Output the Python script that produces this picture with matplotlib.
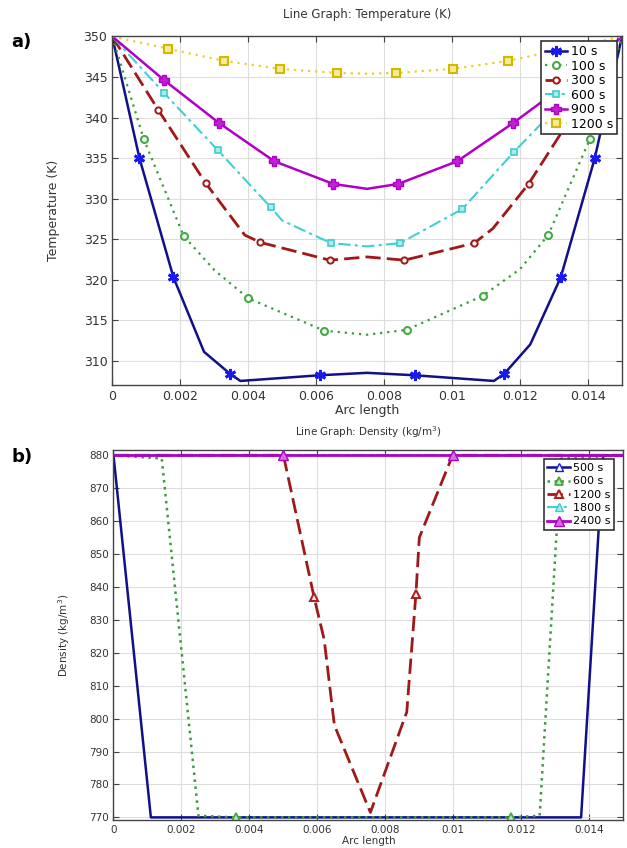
import numpy as np
import matplotlib
matplotlib.use("Agg")
import matplotlib.pyplot as plt

# ---- a) temperature profiles ----
t_labels = ['10 s', '100 s', '300 s', '600 s', '900 s', '1200 s']

x_10 = [0, 0.0008, 0.0018, 0.0027, 0.00346, 0.00377, 0.0061, 0.0075, 0.0089, 0.01123, 0.01154, 0.0123, 0.0132, 0.0142, 0.015]
T_10 = [350, 335.0, 320.3, 311.1, 308.4, 307.5, 308.2, 308.5, 308.2, 307.5, 308.4, 312.0, 320.3, 335.0, 350]

x_100 = [0, 0.00093, 0.0021, 0.003, 0.004, 0.00624, 0.0075, 0.00866, 0.0109, 0.012, 0.01283, 0.01405, 0.015]
T_100 = [350, 337.3, 325.4, 321.2, 317.7, 313.7, 313.2, 313.8, 318.0, 321.3, 325.5, 337.3, 350]

x_300 = [0, 0.00136, 0.00275, 0.0039, 0.00435, 0.0064, 0.0075, 0.0086, 0.01065, 0.0112, 0.01225, 0.01364, 0.015]
T_300 = [350, 340.9, 331.9, 325.5, 324.6, 322.4, 322.8, 322.4, 324.5, 326.3, 331.8, 340.9, 350]

x_600 = [0, 0.00153, 0.0031, 0.00467, 0.0050, 0.00644, 0.0075, 0.00847, 0.0103, 0.01183, 0.0135, 0.015]
T_600 = [350, 343.0, 336.0, 328.9, 327.3, 324.5, 324.1, 324.5, 328.7, 335.8, 343.0, 350]

x_900 = [0, 0.00153, 0.00315, 0.00477, 0.00651, 0.0075, 0.00841, 0.01015, 0.01179, 0.0135, 0.015]
T_900 = [350, 344.6, 339.3, 334.6, 331.8, 331.2, 331.8, 334.6, 339.3, 344.6, 350]

x_1200 = [0, 0.00163, 0.00328, 0.00495, 0.00661, 0.0075, 0.00834, 0.01002, 0.01166, 0.01335, 0.015]
T_1200 = [350, 348.5, 347.0, 346.0, 345.5, 345.4, 345.5, 346.0, 347.0, 348.5, 350]

# ---- b) density profiles ----
d_labels = ['500 s', '600 s', '1200 s', '1800 s', '2400 s']

x_500 = [0, 0.0011, 0.01376, 0.01441, 0.015]
rho_500 = [880, 770, 770, 880, 880]

x_600b = [0, 0.00142, 0.0025, 0.0036, 0.0117, 0.01254, 0.01317, 0.015]
rho_600 = [880, 879, 770.5, 770, 770, 770.5, 879, 880]

x_1200b = [0, 0.0050, 0.0059, 0.0062, 0.0065, 0.00756, 0.00863, 0.0089, 0.0090, 0.00998, 0.015]
rho_1200 = [880, 880, 837, 824, 798, 771.5, 802, 838, 855, 880, 880]

x_1800 = [0, 0.015]
rho_1800 = [880, 880]

x_2400 = [0, 0.005, 0.01, 0.015]
rho_2400 = [880, 880, 880, 880]

x_ticks = [0, 0.002, 0.004, 0.006, 0.008, 0.01, 0.012, 0.014]
x_ticklabels = ['0', '0.002', '0.004', '0.006', '0.008', '0.01', '0.012', '0.014']


def style_axes(ax, fs):
    ax.set_xlim(0, 0.015)
    ax.set_xticks(x_ticks)
    ax.set_xticklabels(x_ticklabels)
    ax.grid(True, color='#dddddd', lw=0.8)
    ax.tick_params(direction='in', top=True, right=True, labelsize=fs,
                   labelcolor='#333333', length=4, color='#444444')
    for s in ax.spines.values():
        s.set_color('#444444')
        s.set_linewidth(1.0)


fig = plt.figure(figsize=(6.27, 8.48), dpi=100)

# ---------- a ----------
ax1 = fig.add_axes([0.179, 0.546, 0.813, 0.411])
ax1.plot(x_10, T_10, color='#10108a', lw=1.8, marker=(6, 2, 0), ms=8, mew=2.0,
         mec='#1a1aee', markevery=[1, 2, 4, 6, 8, 10, 12, 13, 14], label=t_labels[0])
ax1.plot(x_100, T_100, color='#3c9a3c', lw=1.6, ls=(0, (1, 2.2)), marker='o', ms=5,
         mfc='white', mec='#44aa44', mew=1.5, markevery=[1, 2, 4, 5, 7, 8, 10, 11], label=t_labels[1])
ax1.plot(x_300, T_300, color='#a01818', lw=2.0, ls=(0, (5.5, 2.2)), marker='o', ms=4.5,
         mfc='white', mec='#a01818', mew=1.4, markevery=[1, 2, 4, 5, 7, 8, 10, 11], label=t_labels[2])
ax1.plot(x_600, T_600, color='#40d0d0', lw=1.5, ls=(0, (6, 2, 1.5, 2)), marker='s', ms=5,
         mfc='#a8ecec', mec='#40cccc', mew=1.2, markevery=[1, 2, 3, 5, 7, 8, 9, 10], label=t_labels[3])
ax1.plot(x_900, T_900, color='#b000c8', lw=1.8, marker='P', ms=7, mfc='#c020d8',
         mec='#b000c8', markevery=[1, 2, 3, 4, 6, 7, 8, 9], label=t_labels[4])
ax1.plot(x_1200, T_1200, color='#e6d22a', lw=1.6, ls=(0, (1, 2.2)), marker='s', ms=6,
         mfc='#f4ec9a', mec='#d4b800', mew=1.5, markevery=[1, 2, 3, 4, 6, 7, 8, 9], label=t_labels[5])
ax1.set_ylim(307, 350)
ax1.set_yticks(np.arange(310, 351, 5))
style_axes(ax1, 9)
ax1.set_title('Line Graph: Temperature (K)', fontsize=8.5, color='#333333', pad=13)
ax1.set_xlabel('Arc length', fontsize=9, color='#333333', labelpad=1)
ax1.set_ylabel('Temperature (K)', fontsize=9, color='#333333', labelpad=17)
leg1 = ax1.legend(loc='upper right', fontsize=9, fancybox=False, framealpha=1,
                  edgecolor='#333333', handlelength=1.8, handletextpad=0.3,
                  borderpad=0.3, labelspacing=0.12, borderaxespad=0.4)
leg1.get_frame().set_linewidth(1.2)

# ---------- b ----------
ax2 = fig.add_axes([0.181, 0.033, 0.813, 0.436])
ax2.plot(x_500, rho_500, color='#10108a', lw=1.8, marker='^', ms=6, mfc='white',
         mec='#1a1aee', markevery=[], label=d_labels[0])
ax2.plot(x_600b, rho_600, color='#3c9a3c', lw=1.8, ls=(0, (1, 1.8)), marker='^', ms=6,
         mfc='#bde8bd', mec='#44aa44', mew=1.3, markevery=[3, 4], label=d_labels[1])
ax2.plot(x_1200b, rho_1200, color='#a01818', lw=2.0, ls=(0, (5.5, 2.2)), marker='^', ms=6,
         mfc='white', mec='#b02020', mew=1.5, markevery=[2, 7], label=d_labels[2])
ax2.plot(x_1800, rho_1800, color='#40d0d0', lw=1.5, ls=(0, (6, 2, 1.5, 2)), marker='^', ms=6,
         mfc='#a8ecec', mec='#40cccc', markevery=[], label=d_labels[3])
ax2.plot(x_2400, rho_2400, color='#b000c8', lw=2.0, marker='^', ms=7, mfc='#d070e0',
         mec='#b000c8', markevery=[1, 2], label=d_labels[4])
ax2.set_ylim(769.2, 881.5)
ax2.set_yticks(np.arange(770, 881, 10))
style_axes(ax2, 7.5)
ax2.set_title('Line Graph: Density (kg/m$^3$)', fontsize=7.5, color='#333333', pad=10)
ax2.set_xlabel('Arc length', fontsize=7.5, color='#333333', labelpad=1)
ax2.set_ylabel('Density (kg/m$^3$)', fontsize=7.5, color='#333333', labelpad=12)
leg2 = ax2.legend(loc='upper right', fontsize=8, fancybox=False, framealpha=1,
                  edgecolor='#333333', handlelength=2.0, handletextpad=0.3,
                  borderpad=0.35, labelspacing=0.3, borderaxespad=0.8)
leg2.get_frame().set_linewidth(1.2)

fig.text(0.018, 0.945, 'a)', fontsize=13, fontweight='bold')
fig.text(0.018, 0.455, 'b)', fontsize=13, fontweight='bold')

fig.savefig('out.png', dpi=100)
